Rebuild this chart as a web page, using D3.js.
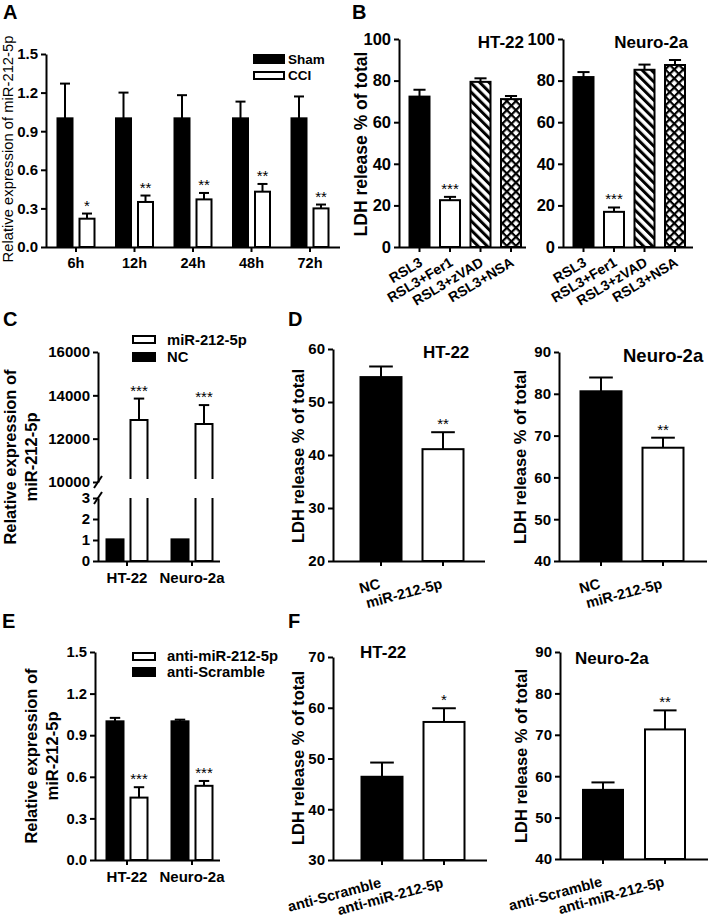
<!DOCTYPE html>
<html><head><meta charset="utf-8">
<script src="https://cdn.jsdelivr.net/npm/d3@7"></script>
<style>
body{margin:0;background:#fff}
svg{display:block;font-family:"Liberation Sans",Arial,sans-serif}
</style></head><body>
<svg id="fig" width="709" height="917"></svg>
<script>
// ---------------- DATA ----------------
const aCats = ["6h","12h","24h","48h","72h"];
const aSeries = ["Sham","CCI"];
const aSham = [1.0,1.0,1.0,1.0,1.0];
const aShamErr = [0.27,0.20,0.18,0.13,0.17];
const aCCI = [0.22,0.35,0.37,0.43,0.30];
const aCCIErr = [0.04,0.05,0.05,0.06,0.03];
const aStars = ["*","**","**","**","**"];
const aTicks = [0,0.3,0.6,0.9,1.2,1.5];

const bCats = ["RSL3","RSL3+Fer1","RSL3+zVAD","RSL3+NSA"];
const bHT22 = [72.3,22.5,79.4,71.1];
const bHT22Err = [3.3,1.6,1.7,1.5];
const bN2a = [81.7,16.9,85.2,87.5];
const bN2aErr = [2.4,2.1,2.5,2.4];
const bStars = ["","***","",""];
const bTicks = [0,20,40,60,80,100];

const cCats = ["HT-22","Neuro-2a"];
const cSeries = ["NC","miR-212-5p"];
const cNC = [1.03,1.03];
const cMiR = [12860,12680];
const cMiRErr = [990,870];
const cStars = ["***","***"];
const cTicksUpper = [10000,12000,14000,16000];
const cTicksLower = [0,1,2,3];

const dCats = ["NC","miR-212-5p"];
const dHT22 = [54.7,41.1];
const dHT22Err = [2.0,3.2];
const dN2a = [80.6,67.1];
const dN2aErr = [3.3,2.4];
const dStars = ["","**"];
const dTicksHT22 = [20,30,40,50,60];
const dTicksN2a = [40,50,60,70,80,90];

const eCats = ["HT-22","Neuro-2a"];
const eSeries = ["anti-Scramble","anti-miR-212-5p"];
const eScr = [1.00,1.00];
const eScrErr = [0.025,0.012];
const eAnti = [0.45,0.535];
const eAntiErr = [0.075,0.035];
const eStars = ["***","***"];
const eTicks = [0,0.3,0.6,0.9,1.2,1.5];

const fCats = ["anti-Scramble","anti-miR-212-5p"];
const fHT22 = [46.4,57.2];
const fHT22Err = [2.8,2.7];
const fN2a = [56.7,71.3];
const fN2aErr = [1.8,4.6];
const fStarsHT22 = ["","*"];
const fStarsN2a = ["","**"];
const fTicksHT22 = [30,40,50,60,70];
const fTicksN2a = [40,50,60,70,80,90];

// ---------------- HELPERS ----------------
const FONT = '"Liberation Sans", Arial, sans-serif';
const svg = d3.select("#fig");
const defs = svg.append("defs");

const pd = defs.append("pattern").attr("id","diag").attr("patternUnits","userSpaceOnUse")
  .attr("width",6.5).attr("height",6.5).attr("patternTransform","rotate(-45)");
pd.append("rect").attr("width",6.5).attr("height",6.5).attr("fill","#fff");
pd.append("rect").attr("x",0).attr("width",3).attr("height",6.5).attr("fill","#000");

const pc = defs.append("pattern").attr("id","cross").attr("patternUnits","userSpaceOnUse")
  .attr("width",6.4).attr("height",6.4).attr("patternTransform","rotate(45)");
pc.append("rect").attr("width",6.4).attr("height",6.4).attr("fill","#000");
pc.append("rect").attr("x",2.2).attr("y",2.2).attr("width",4.2).attr("height",4.2).attr("fill","#fff");

function styleAxis(g, fs){
  g.selectAll("path.domain").attr("stroke","#000").attr("stroke-width",2);
  g.selectAll(".tick line").attr("stroke","#000").attr("stroke-width",2);
  g.selectAll(".tick text").attr("fill","#000").attr("font-size",fs)
    .attr("font-weight","bold").attr("font-family",FONT);
}
function yAxis(x0, y, ticks, fmt, fs){
  const g = svg.append("g").attr("transform",`translate(${x0},0)`)
    .call(d3.axisLeft(y).tickValues(ticks).tickFormat(fmt).tickSize(5).tickSizeOuter(0).tickPadding(3));
  styleAxis(g, fs);
  return g;
}
function xAxis(x, y0, x0, x1, fs, rot, pad){
  const g = svg.append("g").attr("transform",`translate(0,${y0})`)
    .call(d3.axisBottom(x).tickSize(5).tickSizeOuter(0).tickPadding(pad||6));
  g.select("path.domain").remove();
  g.append("line").attr("x1",x0).attr("x2",x1).attr("y1",0.5).attr("y2",0.5)
    .attr("stroke","#000").attr("stroke-width",2);
  styleAxis(g, fs);
  if (rot){
    g.selectAll(".tick text").attr("text-anchor","end").attr("x",0).attr("y",0).attr("dy",0)
      .attr("transform",`translate(${rot.dx},${rot.dy}) rotate(${-rot.angle})`);
  }
  return g;
}
function centeredBand(cats, c0, step, w){
  const p = (step - w)/step;
  return d3.scaleBand().domain(cats).range([c0 - step/2, c0 + (cats.length - 0.5)*step])
    .paddingInner(p).paddingOuter(p/2);
}
function innerBand(series, w, step){
  return d3.scaleBand().domain(series).range([-(step/2 + w/2), step/2 + w/2])
    .paddingInner((step - w)/step);
}
function bar(x, w, yTop, yBot, fill){
  svg.append("rect").attr("x",x+1).attr("y",yTop).attr("width",w-2).attr("height",Math.max(0,yBot-yTop))
    .attr("fill",fill).attr("stroke","#000").attr("stroke-width",2);
}
function errBar(cx, w, yv, ye){
  const cap = Math.max(10, w*0.55);
  svg.append("line").attr("x1",cx).attr("x2",cx).attr("y1",yv).attr("y2",ye).attr("stroke","#000").attr("stroke-width",2);
  svg.append("line").attr("x1",cx-cap/2).attr("x2",cx+cap/2).attr("y1",ye).attr("y2",ye).attr("stroke","#000").attr("stroke-width",2);
}
function star(cx, ye, s, fs){
  if(!s) return;
  svg.append("text").attr("x",cx).attr("y",ye-3).attr("text-anchor","middle")
    .attr("font-size",fs||15).attr("font-family",FONT).attr("fill","#000").text(s);
}
function yLabel(lines, x, yc, fs, weight, gap){
  const t = svg.append("text").attr("transform",`translate(${x},${yc}) rotate(-90)`)
    .attr("text-anchor","middle").attr("font-size",fs).attr("font-weight",weight).attr("font-family",FONT).attr("fill","#000");
  lines.forEach((l,i)=>{
    t.append("tspan").attr("x",0).attr("y",(i-(lines.length-1))*gap).text(l);
  });
}
function txt(s, x, y, fs, anchor, weight){
  svg.append("text").attr("x",x).attr("y",y).attr("font-size",fs).attr("font-weight",weight||"bold")
    .attr("text-anchor",anchor||"start").attr("font-family",FONT).attr("fill","#000").text(s);
}
function fmtInt(d){ return String(d); }

// panel letters
txt("A",3,19,20); txt("B",352,19,20); txt("C",3,326,20); txt("D",288,326,20); txt("E",2,628,20); txt("F",288,628,20);

// ---------------- PANEL A ----------------
{
  const y = d3.scaleLinear().domain([0,1.5]).range([247,54]);
  const x = centeredBand(aCats, 76, 58.5, 58.5);
  const xi = innerBand(aSeries, 17, 22);
  yAxis(46, y, aTicks, d3.format(".1f"), 15);
  xAxis(x, 247, 46, 340, 14.5);
  aCats.forEach((c,i)=>{
    const cx = x(c) + x.bandwidth()/2;
    const vals = [[aSham[i],aShamErr[i],"#000",""],[aCCI[i],aCCIErr[i],"#fff",aStars[i]]];
    aSeries.forEach((s,j)=>{
      const [v,e,fill,st] = vals[j];
      const bx = cx + xi(s);
      bar(bx, xi.bandwidth(), y(v), y(0), fill);
      errBar(bx + xi.bandwidth()/2, xi.bandwidth(), y(v), y(v+e));
      star(bx + xi.bandwidth()/2, y(v+e), st, 15);
    });
  });
  yLabel(["Relative expression of miR-212-5p"], 13, 149, 14.8, "normal", 0);
  svg.append("rect").attr("x",254).attr("y",55).attr("width",30).attr("height",8).attr("fill","#000").attr("stroke","#000").attr("stroke-width",2);
  svg.append("rect").attr("x",254).attr("y",72).attr("width",30).attr("height",7).attr("fill","#fff").attr("stroke","#000").attr("stroke-width",2);
  txt("Sham",288,64,13.5); txt("CCI",288,80,13.5);
}

// ---------------- PANEL B ----------------
function panelB(axisX, c0, xEnd, vals, errs, title, titleX){
  const y = d3.scaleLinear().domain([0,100]).range([247,39]);
  const x = centeredBand(bCats, c0, 30.5, 22);
  yAxis(axisX, y, bTicks, fmtInt, 16.5);
  xAxis(x, 247, axisX, xEnd, 14, {dx:4, dy:18, angle:31});
  const fills = ["#000","#fff","url(#diag)","url(#cross)"];
  bCats.forEach((c,i)=>{
    const bx = x(c), w = x.bandwidth();
    bar(bx, w, y(vals[i]), y(0), fills[i]);
    errBar(bx + w/2, w, y(vals[i]), y(vals[i]+errs[i]));
    star(bx + w/2, y(vals[i]+errs[i]), bStars[i], 15);
  });
  txt(title, titleX, 48, 17, "end");
}
panelB(399, 419.5, 526, bHT22, bHT22Err, "HT-22", 524);
panelB(563, 583.5, 693, bN2a, bN2aErr, "Neuro-2a", 688);
yLabel(["LDH release % of total"], 367, 144, 17.5, "bold", 0);

// ---------------- PANEL C ----------------
{
  const axisX = 98;
  const yU = d3.scaleLinear().domain([10000,16000]).range([482,352]);
  const yL = d3.scaleLinear().domain([0,3]).range([561,498]);
  const x = centeredBand(cCats, 127, 65, 65);
  const xi = innerBand(cSeries, 19, 24);
  yAxis(axisX, yU, cTicksUpper, fmtInt, 15);
  yAxis(axisX, yL, cTicksLower, fmtInt, 15);
  [yU(10000), yL(3)].forEach(yy=>{
    svg.append("line").attr("x1",axisX-4).attr("y1",yy+6).attr("x2",axisX+4).attr("y2",yy-6)
      .attr("stroke","#000").attr("stroke-width",2);
  });
  xAxis(x, 561, axisX, 220, 15);
  cCats.forEach((c,i)=>{
    const cx = x(c) + x.bandwidth()/2;
    const w = xi.bandwidth();
    const bx0 = cx + xi("NC");
    bar(bx0, w, yL(cNC[i]), yL(0), "#000");
    const bx1 = cx + xi("miR-212-5p");
    const L = bx1+1, R = bx1+w-1;
    svg.append("path").attr("d",`M${L},${yU(10000)-3}V${yU(cMiR[i])}H${R}V${yU(10000)-3}`)
      .attr("fill","#fff").attr("stroke","#000").attr("stroke-width",2);
    svg.append("path").attr("d",`M${L},${yL(3)}V${yL(0)}H${R}V${yL(3)}`)
      .attr("fill","#fff").attr("stroke","#000").attr("stroke-width",2);
    errBar(bx1 + w/2, w, yU(cMiR[i]), yU(cMiR[i]+cMiRErr[i]));
    star(bx1 + w/2, yU(cMiR[i]+cMiRErr[i]), cStars[i], 15);
  });
  yLabel(["Relative expression of","miR-212-5p"], 37, 457, 16.5, "bold", 21);
  svg.append("rect").attr("x",133).attr("y",336).attr("width",22).attr("height",7).attr("fill","#fff").attr("stroke","#000").attr("stroke-width",2);
  svg.append("rect").attr("x",133).attr("y",353).attr("width",22).attr("height",8).attr("fill","#000").attr("stroke","#000").attr("stroke-width",2);
  txt("miR-212-5p",167,345,14.8); txt("NC",167,362,14.8);
}

// ---------------- generic two-bar panels (D, F) ----------------
function twoBar(axisX, dom, yr, ticks, cats, c0, step, w, xEnd, vals, errs, stars, title, tx, ty, tfs){
  const y = d3.scaleLinear().domain(dom).range(yr);
  const x = centeredBand(cats, c0, step, w);
  yAxis(axisX, y, ticks, fmtInt, 15);
  xAxis(x, yr[0], axisX, xEnd, 14.5, {dx:0, dy:27, angle:15});
  const fills = ["#000","#fff"];
  cats.forEach((c,i)=>{
    const bx = x(c), bw = x.bandwidth();
    bar(bx, bw, y(vals[i]), y(dom[0]), fills[i]);
    errBar(bx + bw/2, bw, y(vals[i]), y(vals[i]+errs[i]));
    star(bx + bw/2, y(vals[i]+errs[i]), stars[i], 15);
  });
  txt(title, tx, ty, tfs||17);
}
twoBar(333, [20,60], [561,349], dTicksHT22, dCats, 381, 62, 43, 485, dHT22, dHT22Err, dStars, "HT-22", 423, 358, 17);
twoBar(559, [40,90], [561,352], dTicksN2a, dCats, 601, 62, 43, 707, dN2a, dN2aErr, dStars, "Neuro-2a", 623, 362, 18.5);
yLabel(["LDH release % of total"], 304, 456, 16.5, "bold", 0);
yLabel(["LDH release % of total"], 526, 457, 16.5, "bold", 0);

twoBar(333, [30,70], [860,657], fTicksHT22, fCats, 382, 62, 43, 487, fHT22, fHT22Err, fStarsHT22, "HT-22", 360, 658, 17);
twoBar(560, [40,90], [859,652], fTicksN2a, fCats, 603, 62, 42, 708, fN2a, fN2aErr, fStarsN2a, "Neuro-2a", 575, 664, 17);
yLabel(["LDH release % of total"], 304, 758, 16.5, "bold", 0);
yLabel(["LDH release % of total"], 527, 756, 16.5, "bold", 0);

// ---------------- PANEL E ----------------
{
  const axisX = 95;
  const y = d3.scaleLinear().domain([0,1.5]).range([860,652]);
  const x = centeredBand(eCats, 127, 65, 65);
  const xi = innerBand(eSeries, 19, 24);
  yAxis(axisX, y, eTicks, d3.format(".1f"), 14.8);
  xAxis(x, 860, axisX, 220, 15);
  eCats.forEach((c,i)=>{
    const cx = x(c) + x.bandwidth()/2;
    const w = xi.bandwidth();
    const b0 = cx + xi("anti-Scramble");
    bar(b0, w, y(eScr[i]), y(0), "#000");
    errBar(b0 + w/2, w, y(eScr[i]), y(eScr[i]+eScrErr[i]));
    const b1 = cx + xi("anti-miR-212-5p");
    bar(b1, w, y(eAnti[i]), y(0), "#fff");
    errBar(b1 + w/2, w, y(eAnti[i]), y(eAnti[i]+eAntiErr[i]));
    star(b1 + w/2, y(eAnti[i]+eAntiErr[i]), eStars[i], 15);
  });
  yLabel(["Relative expression of","miR-212-5p"], 58, 756, 16.5, "bold", 21);
  svg.append("rect").attr("x",133).attr("y",653).attr("width",22).attr("height",7).attr("fill","#fff").attr("stroke","#000").attr("stroke-width",2);
  svg.append("rect").attr("x",133).attr("y",668).attr("width",22).attr("height",8).attr("fill","#000").attr("stroke","#000").attr("stroke-width",2);
  txt("anti-miR-212-5p",167,661,14.8); txt("anti-Scramble",167,677,14.8);
}
</script>
</body></html>
